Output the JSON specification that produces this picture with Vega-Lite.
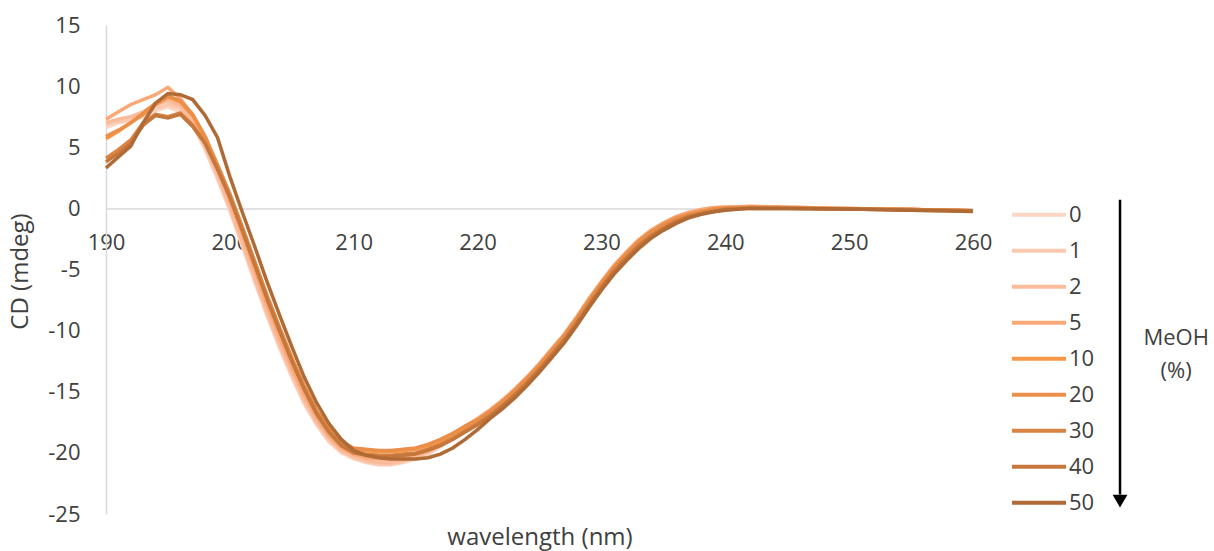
{
  "$schema": "https://vega.github.io/schema/vega-lite/v6.json",
  "autosize": {"type": "none"},
  "padding": {"left": 106, "top": 25, "right": 241, "bottom": 37},
  "width": 867,
  "height": 489,
  "config": {
    "view": {"stroke": null},
    "font": "Open Sans",
    "legend": {
      "orient": "none",
      "legendX": 904,
      "legendY": 172,
      "padding": 0,
      "symbolType": "stroke",
      "symbolSize": 2916,
      "symbolStrokeWidth": 4,
      "labelFont": "Open Sans",
      "labelFontSize": 22,
      "labelColor": "#404040",
      "labelOffset": 1,
      "clipHeight": 35.7,
      "rowPadding": 0
    }
  },
  "layer": [
    {
      "data": {"values": [
{"w":190,"m":0,"cd":6.6},{"w":191,"m":0,"cd":7.0},{"w":192,"m":0,"cd":7.2},{"w":193,"m":0,"cd":7.5},{"w":194,"m":0,"cd":8.0},{"w":195,"m":0,"cd":8.3},{"w":196,"m":0,"cd":7.9},{"w":197,"m":0,"cd":6.8},{"w":198,"m":0,"cd":4.8},{"w":199,"m":0,"cd":2.4},{"w":200,"m":0,"cd":-0.2},{"w":201,"m":0,"cd":-3.1},{"w":202,"m":0,"cd":-6.0},{"w":203,"m":0,"cd":-8.8},{"w":204,"m":0,"cd":-11.4},{"w":205,"m":0,"cd":-13.8},{"w":206,"m":0,"cd":-16.0},{"w":207,"m":0,"cd":-17.7},{"w":208,"m":0,"cd":-19.1},{"w":209,"m":0,"cd":-20.0},{"w":210,"m":0,"cd":-20.5},{"w":211,"m":0,"cd":-20.8},{"w":212,"m":0,"cd":-21.0},{"w":213,"m":0,"cd":-21.0},{"w":214,"m":0,"cd":-20.8},{"w":215,"m":0,"cd":-20.5},{"w":216,"m":0,"cd":-20.1},{"w":217,"m":0,"cd":-19.5},{"w":218,"m":0,"cd":-18.8},{"w":219,"m":0,"cd":-18.0},{"w":220,"m":0,"cd":-17.3},{"w":221,"m":0,"cd":-16.5},{"w":222,"m":0,"cd":-15.7},{"w":223,"m":0,"cd":-14.8},{"w":224,"m":0,"cd":-13.8},{"w":225,"m":0,"cd":-12.7},{"w":226,"m":0,"cd":-11.5},{"w":227,"m":0,"cd":-10.3},{"w":228,"m":0,"cd":-8.9},{"w":229,"m":0,"cd":-7.4},{"w":230,"m":0,"cd":-6.0},{"w":231,"m":0,"cd":-4.7},{"w":232,"m":0,"cd":-3.6},{"w":233,"m":0,"cd":-2.6},{"w":234,"m":0,"cd":-1.8},{"w":235,"m":0,"cd":-1.2},{"w":236,"m":0,"cd":-0.7},{"w":237,"m":0,"cd":-0.35},{"w":238,"m":0,"cd":-0.1},{"w":239,"m":0,"cd":0.05},{"w":240,"m":0,"cd":0.1},{"w":242,"m":0,"cd":0.15},{"w":245,"m":0,"cd":0.1},{"w":250,"m":0,"cd":0.0},{"w":255,"m":0,"cd":-0.1},{"w":260,"m":0,"cd":-0.2},
{"w":190,"m":1,"cd":6.9},{"w":191,"m":1,"cd":7.1},{"w":192,"m":1,"cd":7.3},{"w":193,"m":1,"cd":7.6},{"w":194,"m":1,"cd":8.2},{"w":195,"m":1,"cd":8.5},{"w":196,"m":1,"cd":8.2},{"w":197,"m":1,"cd":7.0},{"w":198,"m":1,"cd":5.0},{"w":199,"m":1,"cd":2.6},{"w":200,"m":1,"cd":0.0},{"w":201,"m":1,"cd":-2.9},{"w":202,"m":1,"cd":-5.8},{"w":203,"m":1,"cd":-8.6},{"w":204,"m":1,"cd":-11.2},{"w":205,"m":1,"cd":-13.6},{"w":206,"m":1,"cd":-15.8},{"w":207,"m":1,"cd":-17.6},{"w":208,"m":1,"cd":-19.0},{"w":209,"m":1,"cd":-19.9},{"w":210,"m":1,"cd":-20.4},{"w":211,"m":1,"cd":-20.7},{"w":212,"m":1,"cd":-20.9},{"w":213,"m":1,"cd":-20.9},{"w":214,"m":1,"cd":-20.7},{"w":215,"m":1,"cd":-20.4},{"w":216,"m":1,"cd":-20.0},{"w":217,"m":1,"cd":-19.4},{"w":218,"m":1,"cd":-18.7},{"w":219,"m":1,"cd":-17.9},{"w":220,"m":1,"cd":-17.2},{"w":221,"m":1,"cd":-16.5},{"w":222,"m":1,"cd":-15.7},{"w":223,"m":1,"cd":-14.8},{"w":224,"m":1,"cd":-13.8},{"w":225,"m":1,"cd":-12.7},{"w":226,"m":1,"cd":-11.5},{"w":227,"m":1,"cd":-10.3},{"w":228,"m":1,"cd":-8.9},{"w":229,"m":1,"cd":-7.4},{"w":230,"m":1,"cd":-6.0},{"w":231,"m":1,"cd":-4.7},{"w":232,"m":1,"cd":-3.6},{"w":233,"m":1,"cd":-2.6},{"w":234,"m":1,"cd":-1.8},{"w":235,"m":1,"cd":-1.2},{"w":236,"m":1,"cd":-0.7},{"w":237,"m":1,"cd":-0.35},{"w":238,"m":1,"cd":-0.1},{"w":239,"m":1,"cd":0.05},{"w":240,"m":1,"cd":0.1},{"w":242,"m":1,"cd":0.15},{"w":245,"m":1,"cd":0.1},{"w":250,"m":1,"cd":0.0},{"w":255,"m":1,"cd":-0.1},{"w":260,"m":1,"cd":-0.2},
{"w":190,"m":2,"cd":7.0},{"w":191,"m":2,"cd":7.3},{"w":192,"m":2,"cd":7.5},{"w":193,"m":2,"cd":7.9},{"w":194,"m":2,"cd":8.5},{"w":195,"m":2,"cd":8.8},{"w":196,"m":2,"cd":8.4},{"w":197,"m":2,"cd":7.2},{"w":198,"m":2,"cd":5.2},{"w":199,"m":2,"cd":2.8},{"w":200,"m":2,"cd":0.2},{"w":201,"m":2,"cd":-2.7},{"w":202,"m":2,"cd":-5.6},{"w":203,"m":2,"cd":-8.4},{"w":204,"m":2,"cd":-11.0},{"w":205,"m":2,"cd":-13.4},{"w":206,"m":2,"cd":-15.6},{"w":207,"m":2,"cd":-17.4},{"w":208,"m":2,"cd":-18.8},{"w":209,"m":2,"cd":-19.8},{"w":210,"m":2,"cd":-20.3},{"w":211,"m":2,"cd":-20.6},{"w":212,"m":2,"cd":-20.8},{"w":213,"m":2,"cd":-20.8},{"w":214,"m":2,"cd":-20.6},{"w":215,"m":2,"cd":-20.3},{"w":216,"m":2,"cd":-19.9},{"w":217,"m":2,"cd":-19.3},{"w":218,"m":2,"cd":-18.7},{"w":219,"m":2,"cd":-17.9},{"w":220,"m":2,"cd":-17.2},{"w":221,"m":2,"cd":-16.5},{"w":222,"m":2,"cd":-15.7},{"w":223,"m":2,"cd":-14.8},{"w":224,"m":2,"cd":-13.8},{"w":225,"m":2,"cd":-12.7},{"w":226,"m":2,"cd":-11.5},{"w":227,"m":2,"cd":-10.3},{"w":228,"m":2,"cd":-8.9},{"w":229,"m":2,"cd":-7.4},{"w":230,"m":2,"cd":-6.0},{"w":231,"m":2,"cd":-4.7},{"w":232,"m":2,"cd":-3.6},{"w":233,"m":2,"cd":-2.6},{"w":234,"m":2,"cd":-1.8},{"w":235,"m":2,"cd":-1.2},{"w":236,"m":2,"cd":-0.7},{"w":237,"m":2,"cd":-0.35},{"w":238,"m":2,"cd":-0.1},{"w":239,"m":2,"cd":0.05},{"w":240,"m":2,"cd":0.1},{"w":242,"m":2,"cd":0.15},{"w":245,"m":2,"cd":0.1},{"w":250,"m":2,"cd":0.0},{"w":255,"m":2,"cd":-0.1},{"w":260,"m":2,"cd":-0.2},
{"w":190,"m":5,"cd":7.3},{"w":191,"m":5,"cd":7.9},{"w":192,"m":5,"cd":8.5},{"w":193,"m":5,"cd":8.9},{"w":194,"m":5,"cd":9.3},{"w":195,"m":5,"cd":9.9},{"w":196,"m":5,"cd":9.0},{"w":197,"m":5,"cd":7.6},{"w":198,"m":5,"cd":5.7},{"w":199,"m":5,"cd":3.3},{"w":200,"m":5,"cd":0.7},{"w":201,"m":5,"cd":-2.1},{"w":202,"m":5,"cd":-5.0},{"w":203,"m":5,"cd":-7.9},{"w":204,"m":5,"cd":-10.5},{"w":205,"m":5,"cd":-13.0},{"w":206,"m":5,"cd":-15.2},{"w":207,"m":5,"cd":-17.1},{"w":208,"m":5,"cd":-18.6},{"w":209,"m":5,"cd":-19.6},{"w":210,"m":5,"cd":-20.1},{"w":211,"m":5,"cd":-20.4},{"w":212,"m":5,"cd":-20.5},{"w":213,"m":5,"cd":-20.5},{"w":214,"m":5,"cd":-20.3},{"w":215,"m":5,"cd":-20.1},{"w":216,"m":5,"cd":-19.7},{"w":217,"m":5,"cd":-19.2},{"w":218,"m":5,"cd":-18.6},{"w":219,"m":5,"cd":-17.8},{"w":220,"m":5,"cd":-17.2},{"w":221,"m":5,"cd":-16.5},{"w":222,"m":5,"cd":-15.7},{"w":223,"m":5,"cd":-14.8},{"w":224,"m":5,"cd":-13.8},{"w":225,"m":5,"cd":-12.7},{"w":226,"m":5,"cd":-11.5},{"w":227,"m":5,"cd":-10.3},{"w":228,"m":5,"cd":-8.9},{"w":229,"m":5,"cd":-7.4},{"w":230,"m":5,"cd":-6.0},{"w":231,"m":5,"cd":-4.7},{"w":232,"m":5,"cd":-3.6},{"w":233,"m":5,"cd":-2.6},{"w":234,"m":5,"cd":-1.8},{"w":235,"m":5,"cd":-1.2},{"w":236,"m":5,"cd":-0.7},{"w":237,"m":5,"cd":-0.35},{"w":238,"m":5,"cd":-0.1},{"w":239,"m":5,"cd":0.05},{"w":240,"m":5,"cd":0.1},{"w":242,"m":5,"cd":0.15},{"w":245,"m":5,"cd":0.1},{"w":250,"m":5,"cd":0.0},{"w":255,"m":5,"cd":-0.1},{"w":260,"m":5,"cd":-0.2},
{"w":190,"m":10,"cd":5.7},{"w":191,"m":10,"cd":6.3},{"w":192,"m":10,"cd":7.0},{"w":193,"m":10,"cd":7.7},{"w":194,"m":10,"cd":8.5},{"w":195,"m":10,"cd":9.1},{"w":196,"m":10,"cd":8.7},{"w":197,"m":10,"cd":7.6},{"w":198,"m":10,"cd":5.8},{"w":199,"m":10,"cd":3.5},{"w":200,"m":10,"cd":1.1},{"w":201,"m":10,"cd":-1.6},{"w":202,"m":10,"cd":-4.4},{"w":203,"m":10,"cd":-7.2},{"w":204,"m":10,"cd":-9.8},{"w":205,"m":10,"cd":-12.3},{"w":206,"m":10,"cd":-14.6},{"w":207,"m":10,"cd":-16.6},{"w":208,"m":10,"cd":-18.1},{"w":209,"m":10,"cd":-19.2},{"w":210,"m":10,"cd":-19.7},{"w":211,"m":10,"cd":-19.8},{"w":212,"m":10,"cd":-19.9},{"w":213,"m":10,"cd":-19.9},{"w":214,"m":10,"cd":-19.8},{"w":215,"m":10,"cd":-19.7},{"w":216,"m":10,"cd":-19.4},{"w":217,"m":10,"cd":-19.0},{"w":218,"m":10,"cd":-18.5},{"w":219,"m":10,"cd":-17.9},{"w":220,"m":10,"cd":-17.4},{"w":221,"m":10,"cd":-16.7},{"w":222,"m":10,"cd":-15.9},{"w":223,"m":10,"cd":-15.0},{"w":224,"m":10,"cd":-14.0},{"w":225,"m":10,"cd":-12.9},{"w":226,"m":10,"cd":-11.7},{"w":227,"m":10,"cd":-10.5},{"w":228,"m":10,"cd":-9.1},{"w":229,"m":10,"cd":-7.6},{"w":230,"m":10,"cd":-6.2},{"w":231,"m":10,"cd":-4.9},{"w":232,"m":10,"cd":-3.8},{"w":233,"m":10,"cd":-2.8},{"w":234,"m":10,"cd":-2.0},{"w":235,"m":10,"cd":-1.4},{"w":236,"m":10,"cd":-0.9},{"w":237,"m":10,"cd":-0.55},{"w":238,"m":10,"cd":-0.3},{"w":239,"m":10,"cd":-0.1},{"w":240,"m":10,"cd":0.0},{"w":242,"m":10,"cd":0.1},{"w":245,"m":10,"cd":0.05},{"w":250,"m":10,"cd":-0.05},{"w":255,"m":10,"cd":-0.1},{"w":260,"m":10,"cd":-0.2},
{"w":190,"m":20,"cd":5.9},{"w":191,"m":20,"cd":6.4},{"w":192,"m":20,"cd":7.0},{"w":193,"m":20,"cd":7.8},{"w":194,"m":20,"cd":8.6},{"w":195,"m":20,"cd":9.2},{"w":196,"m":20,"cd":8.8},{"w":197,"m":20,"cd":7.7},{"w":198,"m":20,"cd":5.9},{"w":199,"m":20,"cd":3.6},{"w":200,"m":20,"cd":1.2},{"w":201,"m":20,"cd":-1.5},{"w":202,"m":20,"cd":-4.3},{"w":203,"m":20,"cd":-7.1},{"w":204,"m":20,"cd":-9.7},{"w":205,"m":20,"cd":-12.2},{"w":206,"m":20,"cd":-14.5},{"w":207,"m":20,"cd":-16.5},{"w":208,"m":20,"cd":-18.0},{"w":209,"m":20,"cd":-19.1},{"w":210,"m":20,"cd":-19.6},{"w":211,"m":20,"cd":-19.7},{"w":212,"m":20,"cd":-19.8},{"w":213,"m":20,"cd":-19.8},{"w":214,"m":20,"cd":-19.7},{"w":215,"m":20,"cd":-19.6},{"w":216,"m":20,"cd":-19.3},{"w":217,"m":20,"cd":-18.9},{"w":218,"m":20,"cd":-18.4},{"w":219,"m":20,"cd":-17.8},{"w":220,"m":20,"cd":-17.3},{"w":221,"m":20,"cd":-16.6},{"w":222,"m":20,"cd":-15.8},{"w":223,"m":20,"cd":-14.9},{"w":224,"m":20,"cd":-13.9},{"w":225,"m":20,"cd":-12.8},{"w":226,"m":20,"cd":-11.6},{"w":227,"m":20,"cd":-10.4},{"w":228,"m":20,"cd":-9.0},{"w":229,"m":20,"cd":-7.5},{"w":230,"m":20,"cd":-6.1},{"w":231,"m":20,"cd":-4.8},{"w":232,"m":20,"cd":-3.7},{"w":233,"m":20,"cd":-2.7},{"w":234,"m":20,"cd":-1.9},{"w":235,"m":20,"cd":-1.3},{"w":236,"m":20,"cd":-0.8},{"w":237,"m":20,"cd":-0.5},{"w":238,"m":20,"cd":-0.25},{"w":239,"m":20,"cd":-0.05},{"w":240,"m":20,"cd":0.05},{"w":242,"m":20,"cd":0.1},{"w":245,"m":20,"cd":0.05},{"w":250,"m":20,"cd":-0.05},{"w":255,"m":20,"cd":-0.1},{"w":260,"m":20,"cd":-0.2},
{"w":190,"m":30,"cd":4.1},{"w":191,"m":30,"cd":4.8},{"w":192,"m":30,"cd":5.6},{"w":193,"m":30,"cd":7.0},{"w":194,"m":30,"cd":7.7},{"w":195,"m":30,"cd":7.5},{"w":196,"m":30,"cd":7.8},{"w":197,"m":30,"cd":6.8},{"w":198,"m":30,"cd":5.4},{"w":199,"m":30,"cd":3.3},{"w":200,"m":30,"cd":1.0},{"w":201,"m":30,"cd":-1.7},{"w":202,"m":30,"cd":-4.5},{"w":203,"m":30,"cd":-7.3},{"w":204,"m":30,"cd":-9.9},{"w":205,"m":30,"cd":-12.4},{"w":206,"m":30,"cd":-14.7},{"w":207,"m":30,"cd":-16.7},{"w":208,"m":30,"cd":-18.2},{"w":209,"m":30,"cd":-19.3},{"w":210,"m":30,"cd":-19.9},{"w":211,"m":30,"cd":-20.1},{"w":212,"m":30,"cd":-20.2},{"w":213,"m":30,"cd":-20.2},{"w":214,"m":30,"cd":-20.1},{"w":215,"m":30,"cd":-20.0},{"w":216,"m":30,"cd":-19.7},{"w":217,"m":30,"cd":-19.3},{"w":218,"m":30,"cd":-18.8},{"w":219,"m":30,"cd":-18.2},{"w":220,"m":30,"cd":-17.6},{"w":221,"m":30,"cd":-16.9},{"w":222,"m":30,"cd":-16.1},{"w":223,"m":30,"cd":-15.2},{"w":224,"m":30,"cd":-14.2},{"w":225,"m":30,"cd":-13.1},{"w":226,"m":30,"cd":-11.9},{"w":227,"m":30,"cd":-10.7},{"w":228,"m":30,"cd":-9.3},{"w":229,"m":30,"cd":-7.8},{"w":230,"m":30,"cd":-6.4},{"w":231,"m":30,"cd":-5.1},{"w":232,"m":30,"cd":-4.0},{"w":233,"m":30,"cd":-3.0},{"w":234,"m":30,"cd":-2.2},{"w":235,"m":30,"cd":-1.6},{"w":236,"m":30,"cd":-1.05},{"w":237,"m":30,"cd":-0.65},{"w":238,"m":30,"cd":-0.4},{"w":239,"m":30,"cd":-0.2},{"w":240,"m":30,"cd":-0.05},{"w":242,"m":30,"cd":0.05},{"w":245,"m":30,"cd":0.0},{"w":250,"m":30,"cd":-0.05},{"w":255,"m":30,"cd":-0.1},{"w":260,"m":30,"cd":-0.2},
{"w":190,"m":40,"cd":3.8},{"w":191,"m":40,"cd":4.5},{"w":192,"m":40,"cd":5.3},{"w":193,"m":40,"cd":6.8},{"w":194,"m":40,"cd":7.6},{"w":195,"m":40,"cd":7.4},{"w":196,"m":40,"cd":7.7},{"w":197,"m":40,"cd":6.7},{"w":198,"m":40,"cd":5.3},{"w":199,"m":40,"cd":3.2},{"w":200,"m":40,"cd":0.9},{"w":201,"m":40,"cd":-1.8},{"w":202,"m":40,"cd":-4.6},{"w":203,"m":40,"cd":-7.4},{"w":204,"m":40,"cd":-10.0},{"w":205,"m":40,"cd":-12.5},{"w":206,"m":40,"cd":-14.8},{"w":207,"m":40,"cd":-16.8},{"w":208,"m":40,"cd":-18.3},{"w":209,"m":40,"cd":-19.4},{"w":210,"m":40,"cd":-20.0},{"w":211,"m":40,"cd":-20.2},{"w":212,"m":40,"cd":-20.3},{"w":213,"m":40,"cd":-20.3},{"w":214,"m":40,"cd":-20.2},{"w":215,"m":40,"cd":-20.1},{"w":216,"m":40,"cd":-19.8},{"w":217,"m":40,"cd":-19.4},{"w":218,"m":40,"cd":-18.9},{"w":219,"m":40,"cd":-18.3},{"w":220,"m":40,"cd":-17.7},{"w":221,"m":40,"cd":-17.0},{"w":222,"m":40,"cd":-16.2},{"w":223,"m":40,"cd":-15.3},{"w":224,"m":40,"cd":-14.3},{"w":225,"m":40,"cd":-13.2},{"w":226,"m":40,"cd":-12.0},{"w":227,"m":40,"cd":-10.8},{"w":228,"m":40,"cd":-9.4},{"w":229,"m":40,"cd":-7.9},{"w":230,"m":40,"cd":-6.5},{"w":231,"m":40,"cd":-5.2},{"w":232,"m":40,"cd":-4.1},{"w":233,"m":40,"cd":-3.1},{"w":234,"m":40,"cd":-2.3},{"w":235,"m":40,"cd":-1.65},{"w":236,"m":40,"cd":-1.1},{"w":237,"m":40,"cd":-0.7},{"w":238,"m":40,"cd":-0.45},{"w":239,"m":40,"cd":-0.25},{"w":240,"m":40,"cd":-0.1},{"w":242,"m":40,"cd":0.0},{"w":245,"m":40,"cd":0.0},{"w":250,"m":40,"cd":-0.05},{"w":255,"m":40,"cd":-0.15},{"w":260,"m":40,"cd":-0.2},
{"w":190,"m":50,"cd":3.3},{"w":191,"m":50,"cd":4.2},{"w":192,"m":50,"cd":5.1},{"w":193,"m":50,"cd":7.0},{"w":194,"m":50,"cd":8.6},{"w":195,"m":50,"cd":9.4},{"w":196,"m":50,"cd":9.3},{"w":197,"m":50,"cd":8.9},{"w":198,"m":50,"cd":7.6},{"w":199,"m":50,"cd":5.8},{"w":200,"m":50,"cd":2.6},{"w":201,"m":50,"cd":-0.3},{"w":202,"m":50,"cd":-3.1},{"w":203,"m":50,"cd":-6.0},{"w":204,"m":50,"cd":-8.7},{"w":205,"m":50,"cd":-11.3},{"w":206,"m":50,"cd":-13.8},{"w":207,"m":50,"cd":-15.9},{"w":208,"m":50,"cd":-17.6},{"w":209,"m":50,"cd":-18.9},{"w":210,"m":50,"cd":-19.8},{"w":211,"m":50,"cd":-20.2},{"w":212,"m":50,"cd":-20.4},{"w":213,"m":50,"cd":-20.5},{"w":214,"m":50,"cd":-20.5},{"w":215,"m":50,"cd":-20.5},{"w":216,"m":50,"cd":-20.4},{"w":217,"m":50,"cd":-20.1},{"w":218,"m":50,"cd":-19.6},{"w":219,"m":50,"cd":-18.9},{"w":220,"m":50,"cd":-18.1},{"w":221,"m":50,"cd":-17.2},{"w":222,"m":50,"cd":-16.4},{"w":223,"m":50,"cd":-15.5},{"w":224,"m":50,"cd":-14.5},{"w":225,"m":50,"cd":-13.4},{"w":226,"m":50,"cd":-12.2},{"w":227,"m":50,"cd":-11.0},{"w":228,"m":50,"cd":-9.6},{"w":229,"m":50,"cd":-8.1},{"w":230,"m":50,"cd":-6.7},{"w":231,"m":50,"cd":-5.4},{"w":232,"m":50,"cd":-4.3},{"w":233,"m":50,"cd":-3.3},{"w":234,"m":50,"cd":-2.45},{"w":235,"m":50,"cd":-1.8},{"w":236,"m":50,"cd":-1.25},{"w":237,"m":50,"cd":-0.8},{"w":238,"m":50,"cd":-0.5},{"w":239,"m":50,"cd":-0.3},{"w":240,"m":50,"cd":-0.15},{"w":242,"m":50,"cd":0.0},{"w":245,"m":50,"cd":0.0},{"w":250,"m":50,"cd":-0.05},{"w":255,"m":50,"cd":-0.15},{"w":260,"m":50,"cd":-0.25}
      ]},
      "mark": {"type": "line", "strokeWidth": 3.5, "interpolate": "linear"},
      "encoding": {
        "x": {
          "field": "w", "type": "quantitative",
          "scale": {"domain": [190, 260], "nice": false, "zero": false},
          "axis": {
            "title": "wavelength (nm)",
            "values": [190, 200, 210, 220, 230, 240, 250, 260],
            "offset": -305.6,
            "grid": false,
            "ticks": false,
            "tickSize": 0,
            "domainColor": "#d9d9d9",
            "domainWidth": 1.5,
            "labelFont": "Open Sans",
            "labelFontSize": 22,
            "labelColor": "#404040",
            "labelPadding": 24,
            "labelFlush": false,
            "labelOverlap": false,
            "titleFont": "Open Sans",
            "titleFontSize": 24,
            "titleFontWeight": "normal",
            "titleColor": "#404040",
            "titleBaseline": "alphabetic",
            "titleY": 335.6
          }
        },
        "y": {
          "field": "cd", "type": "quantitative",
          "scale": {"domain": [-25, 15], "nice": false, "zero": false},
          "axis": {
            "title": "CD (mdeg)",
            "values": [-25, -20, -15, -10, -5, 0, 5, 10, 15],
            "labelExpr": "'' + datum.value",
            "grid": false,
            "ticks": false,
            "tickSize": 0,
            "domainColor": "#d9d9d9",
            "domainWidth": 1.5,
            "labelFont": "Open Sans",
            "labelFontSize": 22,
            "labelColor": "#404040",
            "labelPadding": 26,
            "titleFont": "Open Sans",
            "titleFontSize": 24,
            "titleFontWeight": "normal",
            "titleColor": "#404040",
            "titleBaseline": "alphabetic",
            "titleAngle": -90,
            "titleAlign": "center",
            "titleX": -79,
            "titleY": 246
          }
        },
        "color": {
          "field": "m", "type": "ordinal",
          "scale": {
            "domain": [0, 1, 2, 5, 10, 20, 30, 40, 50],
            "range": ["#fcd6c4", "#fbc8b0", "#fbbb9a", "#f9a878", "#f79646", "#ea8f49", "#d98443", "#c6773b", "#b06a35"]
          },
          "legend": {"title": null}
        }
      }
    },
    {
      "data": {"values": [{"w": 271.87, "cd": 0.7, "cd2": -23.4}]},
      "mark": {"type": "rule", "color": "#000000", "strokeWidth": 2.5},
      "encoding": {
        "x": {"field": "w", "type": "quantitative", "scale": {"domain": [190, 260], "nice": false, "zero": false}},
        "y": {"field": "cd", "type": "quantitative", "scale": {"domain": [-25, 15], "nice": false, "zero": false}},
        "y2": {"field": "cd2"}
      }
    },
    {
      "data": {"values": [{"w": 271.87, "cd": -23.95}]},
      "mark": {"type": "point", "shape": "triangle-down", "filled": true, "color": "#000000", "size": 220, "opacity": 1},
      "encoding": {
        "x": {"field": "w", "type": "quantitative", "scale": {"domain": [190, 260], "nice": false, "zero": false}},
        "y": {"field": "cd", "type": "quantitative", "scale": {"domain": [-25, 15], "nice": false, "zero": false}}
      }
    },
    {
      "data": {"values": [{"w": 276.4, "cd": -11.17, "t": "MeOH"}, {"w": 276.4, "cd": -13.9, "t": "(%)"}]},
      "mark": {"type": "text", "font": "Open Sans", "fontSize": 22, "color": "#404040", "align": "center", "baseline": "alphabetic"},
      "encoding": {
        "x": {"field": "w", "type": "quantitative", "scale": {"domain": [190, 260], "nice": false, "zero": false}},
        "y": {"field": "cd", "type": "quantitative", "scale": {"domain": [-25, 15], "nice": false, "zero": false}},
        "text": {"field": "t"}
      }
    }
  ]
}
